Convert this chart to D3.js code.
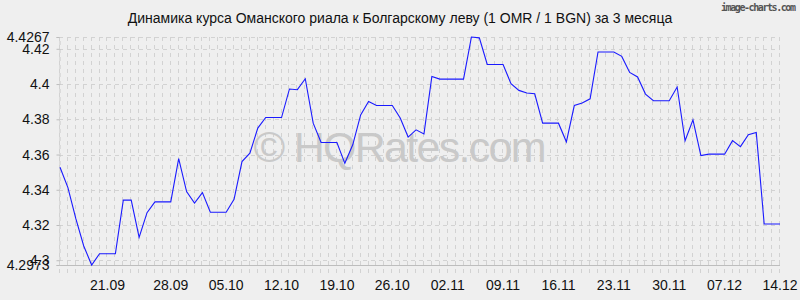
<!DOCTYPE html>
<html>
<head>
<meta charset="utf-8">
<script src="https://cdn.jsdelivr.net/npm/d3@7"></script>
<style>
  body { margin: 0; background: #efefef; }
  svg { display: block; font-family: "Liberation Sans", Arial, sans-serif; }
</style>
</head>
<body>
<script>
var title = "Динамика курса Оманского риала к Болгарскому леву (1 OMR / 1 BGN) за 3 месяца";

// daily rate, 15.09 .. 14.12
var rates = [
    4.3528, 4.3412, 4.3236, 4.3081, 4.2973, 4.3037, 4.3037, 4.3037, 4.3341, 4.3341,
    4.3130, 4.3270, 4.3331, 4.3331, 4.3331, 4.3577, 4.3390, 4.3325, 4.3384, 4.3272,
    4.3272, 4.3272, 4.3346, 4.3560, 4.3608, 4.3750, 4.3810, 4.3810, 4.3810, 4.3972,
    4.3968, 4.4030, 4.3778, 4.3668, 4.3668, 4.3668, 4.3550, 4.3655, 4.3825, 4.3901,
    4.3878, 4.3878, 4.3878, 4.3807, 4.3699, 4.3740, 4.3717, 4.4043, 4.4028, 4.4028,
    4.4028, 4.4028, 4.4267, 4.4262, 4.4111, 4.4111, 4.4111, 4.4002, 4.3964, 4.3949,
    4.3945, 4.3778, 4.3778, 4.3778, 4.3672, 4.3878, 4.3892, 4.3916, 4.4182, 4.4182,
    4.4182, 4.4157, 4.4066, 4.4040, 4.3943, 4.3905, 4.3905, 4.3905, 4.3983, 4.3678,
    4.3797, 4.3594, 4.3602, 4.3602, 4.3602, 4.3679, 4.3645, 4.3712, 4.3725, 4.3206,
    4.3206, 4.3206
];

var xLabels = ["21.09", "28.09", "05.10", "12.10", "19.10", "26.10", "02.11",
               "09.11", "16.11", "23.11", "30.11", "07.12", "14.12"];
var xLabelIndex = [6, 14, 21, 28, 35, 42, 49, 56, 63, 70, 77, 84, 91];

var yMin = 4.2973, yMax = 4.4267;
var yTicks = [4.2973, 4.3, 4.32, 4.34, 4.36, 4.38, 4.4, 4.42, 4.4267];

var width = 800, height = 300;
var margin = {top: 37, right: 20, bottom: 35, left: 60};

var svg = d3.select("body").append("svg")
    .attr("width", width)
    .attr("height", height);

svg.append("rect")
    .attr("width", width)
    .attr("height", height)
    .attr("fill", "#efefef");

var x = d3.scaleLinear()
    .domain([0, rates.length - 1])
    .range([margin.left, width - margin.right]);

var y = d3.scaleLinear()
    .domain([yMin, yMax])
    .range([height - margin.bottom, margin.top]);

// vertical grid, one per day
svg.append("g")
    .attr("class", "vgrid")
    .selectAll("line")
    .data(d3.range(rates.length))
    .enter().append("line")
    .attr("x1", function(d) { return Math.round(x(d)) - 0.5; })
    .attr("x2", function(d) { return Math.round(x(d)) - 0.5; })
    .attr("y1", y(yMax))
    .attr("y2", y(yMin) + 11)
    .attr("stroke", "#d2d2d2")
    .attr("stroke-dasharray", "4,4");

// horizontal grid
svg.append("g")
    .attr("class", "hgrid")
    .selectAll("line")
    .data(yTicks)
    .enter().append("line")
    .attr("x1", x(0) - 1)
    .attr("x2", x(rates.length - 1))
    .attr("y1", function(d) { return Math.round(y(d)) + 0.5; })
    .attr("y2", function(d) { return Math.round(y(d)) + 0.5; })
    .attr("stroke", "#d2d2d2")
    .attr("stroke-dasharray", "4,4");

// bottom axis line
svg.append("line")
    .attr("x1", x(0) - 1)
    .attr("x2", x(rates.length - 1))
    .attr("y1", Math.round(y(yMin)) + 0.5)
    .attr("y2", Math.round(y(yMin)) + 0.5)
    .attr("stroke", "#bdbdbd");

// watermark
svg.append("text")
    .attr("x", 400)
    .attr("y", 162)
    .attr("text-anchor", "middle")
    .attr("font-size", 43)
    .attr("fill", "#c9c9c9")
    .attr("textLength", 293)
    .text("© HQRates.com");

// y axis
var yAxis = d3.axisLeft(y)
    .tickValues(yTicks)
    .tickSize(3)
    .tickPadding(7)
    .tickFormat(function(d) { return String(d); });

var gy = svg.append("g")
    .attr("class", "y axis")
    .attr("transform", "translate(" + (x(0) - 0.5) + ",0)")
    .call(yAxis);
gy.select(".domain").attr("stroke", "#c8c8c8").attr("stroke-dasharray", "4,4");
gy.selectAll(".tick line").attr("stroke", "#bdbdbd");
gy.selectAll("text")
    .attr("font-size", 14)
    .attr("font-family", "Liberation Sans, Arial, sans-serif")
    .attr("fill", "#111");

// x labels
svg.append("g")
    .attr("class", "x labels")
    .selectAll("text")
    .data(xLabels)
    .enter().append("text")
    .attr("x", function(d, i) { return x(xLabelIndex[i]); })
    .attr("y", 290)
    .attr("text-anchor", "middle")
    .attr("font-size", 14)
    .attr("fill", "#111")
    .text(function(d) { return d; });

// rate line
var line = d3.line()
    .x(function(d, i) { return x(i); })
    .y(function(d) { return y(d); });

svg.append("path")
    .datum(rates)
    .attr("d", line)
    .attr("fill", "none")
    .attr("stroke", "#1a1aff")
    .attr("stroke-width", 1.1);

// title
svg.append("text")
    .attr("x", 400)
    .attr("y", 23)
    .attr("text-anchor", "middle")
    .attr("font-size", 14)
    .attr("fill", "#111")
    .text(title);

svg.append("text")
    .attr("x", 796)
    .attr("y", 11)
    .attr("text-anchor", "end")
    .attr("font-size", 10)
    .attr("font-weight", "bold")
    .attr("font-family", "DejaVu Sans Mono, monospace")
    .attr("fill", "#555")
    .attr("textLength", 75)
    .text("image-charts.com");
</script>
</body>
</html>
